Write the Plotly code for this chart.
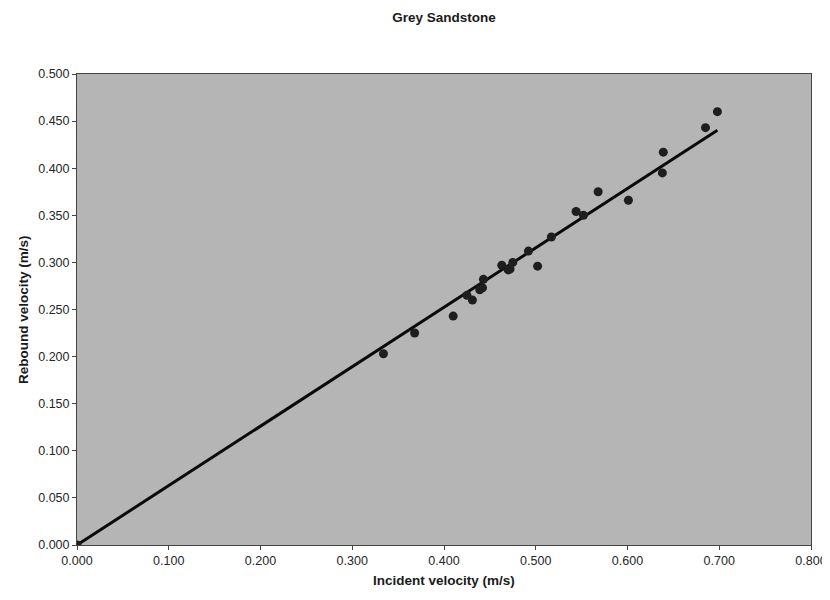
import numpy as np
import plotly.graph_objects as go

# incident vs rebound velocity, grey sandstone
incident = [0.000, 0.334, 0.368, 0.410, 0.425, 0.431, 0.439, 0.442, 0.443,
            0.463, 0.470, 0.472, 0.475, 0.492, 0.502, 0.517, 0.544, 0.552,
            0.568, 0.601, 0.638, 0.639, 0.685, 0.698]
rebound = [0.000, 0.203, 0.225, 0.243, 0.265, 0.260, 0.271, 0.273, 0.282,
           0.297, 0.292, 0.293, 0.300, 0.312, 0.296, 0.327, 0.354, 0.350,
           0.375, 0.366, 0.395, 0.417, 0.443, 0.460]

x_ticks = [0.0, 0.1, 0.2, 0.3, 0.4, 0.5, 0.6, 0.7, 0.8]
y_ticks = [0.0, 0.05, 0.1, 0.15, 0.2, 0.25, 0.3, 0.35, 0.4, 0.45, 0.5]

# linear trendline forced through the origin
x = np.array(incident)
y = np.array(rebound)
slope = (x * y).sum() / (x * x).sum()
fit_x = [0.0, x.max()]
fit_y = [0.0, slope * x.max()]

fig = go.Figure()
fig.add_trace(go.Scatter(x=fit_x, y=fit_y, mode="lines",
                         line=dict(color="#0a0a0a", width=3), showlegend=False))
fig.add_trace(go.Scatter(x=incident, y=rebound, mode="markers",
                         marker=dict(color="#1e1e1e", size=9), showlegend=False))

# page body has an 8px margin, so the figure is sized/offset to fit the 830x600 window
W, H = 822, 592
font = "Liberation Sans, Arial, sans-serif"
fig.update_layout(
    width=W, height=H,
    margin=dict(l=69, r=19, t=66, b=55),
    paper_bgcolor="white",
    plot_bgcolor="#b5b5b5",
    font=dict(family=font, size=12.5, color="#262626"),
    title=dict(text="<b>Grey Sandstone</b>", x=436 / W, xanchor="center",
               y=1 - 9 / H, yanchor="middle", font=dict(size=13.5, color="#1a1a1a")),
)
fig.update_xaxes(
    range=[0, 0.8], tickvals=x_ticks, tickformat=".3f", automargin=False,
    showgrid=False, zeroline=False,
    showline=True, linecolor="#444444", linewidth=1, mirror=True,
    ticks="outside", ticklen=4, tickcolor="#444444",
)
fig.update_yaxes(
    range=[0, 0.5], tickvals=y_ticks, tickformat=".3f", automargin=False,
    showgrid=False, zeroline=False,
    showline=True, linecolor="#444444", linewidth=1, mirror=True,
    ticks="outside", ticklen=4, tickcolor="#444444",
)

# axis titles placed by hand, as in the scanned chart
fig.add_annotation(text="<b>Incident velocity (m/s)</b>", xref="paper", yref="paper",
                   x=0.5, y=-45 / 471, showarrow=False,
                   font=dict(size=13.5, color="#1a1a1a"))
fig.add_annotation(text="<b>Rebound velocity (m/s)</b>", xref="paper", yref="paper",
                   x=-63 / 734, y=0.5, textangle=-90, showarrow=False,
                   font=dict(size=13.5, color="#1a1a1a"))

fig.write_html("out.html")
